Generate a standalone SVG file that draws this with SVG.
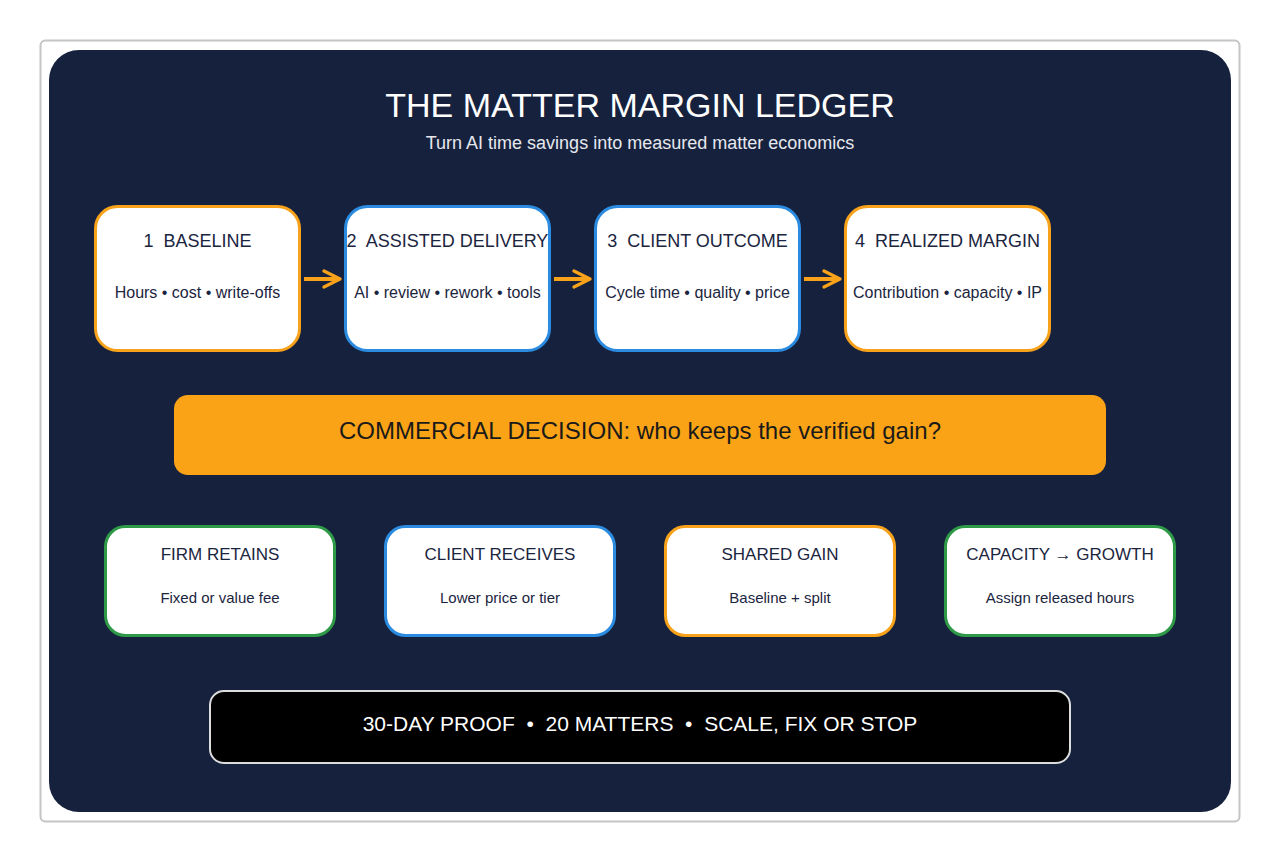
<svg xmlns="http://www.w3.org/2000/svg" width="1280" height="862" viewBox="0 0 1280 862">
<defs>
<style>
.t{font-family:"Liberation Sans",Arial,sans-serif;text-anchor:middle;white-space:pre}
.card{fill:#ffffff;stroke-width:3}
.o{stroke:#f8a21b}.b{stroke:#2b8be0}.g{stroke:#2e9a47}
.nt{font-size:18px;fill:#1b2540}
.ns{font-size:16px;fill:#1b2540}
.bt{font-size:17px;fill:#1b2540}
.bs{font-size:15px;fill:#1b2540}
.conn{stroke:#f8a21b;stroke-width:4;fill:none}
</style>
<marker id="ah" viewBox="0 0 10 10" refX="9" refY="5" markerWidth="5" markerHeight="5" orient="auto" markerUnits="strokeWidth">
<path d="M1,1 L9,5 L1,9" fill="none" stroke="#f8a21b" stroke-width="1.6" stroke-linecap="round" stroke-linejoin="round"/>
</marker>
</defs>
<rect x="0" y="0" width="1280" height="862" fill="#ffffff"/>
<rect x="40.5" y="40.5" width="1199" height="781" rx="5" fill="#ffffff" stroke="#c4c4c4" stroke-width="2"/>
<rect x="49" y="50" width="1182" height="762" rx="30" fill="#16223d"/>
<text class="t" x="640" y="117" font-size="34" fill="#ffffff">THE MATTER MARGIN LEDGER</text>
<text class="t" x="640" y="149" font-size="18" fill="#e6e8ee">Turn AI time savings into measured matter economics</text>

<g id="connectors">
<line class="conn" x1="304" y1="279" x2="340" y2="279" marker-end="url(#ah)"/>
<line class="conn" x1="554" y1="279" x2="590" y2="279" marker-end="url(#ah)"/>
<line class="conn" x1="804" y1="279" x2="840" y2="279" marker-end="url(#ah)"/>
</g>

<g id="n1"><rect class="card o" x="95.5" y="206.5" width="204" height="144" rx="22"/>
<text class="t nt" x="197.5" y="247" xml:space="preserve">1  BASELINE</text><text class="t ns" x="197.5" y="298">Hours • cost • write-offs</text></g>
<g id="n2"><rect class="card b" x="345.5" y="206.5" width="204" height="144" rx="22"/>
<text class="t nt" x="447.5" y="247" xml:space="preserve">2  ASSISTED DELIVERY</text><text class="t ns" x="447.5" y="298">AI • review • rework • tools</text></g>
<g id="n3"><rect class="card b" x="595.5" y="206.5" width="204" height="144" rx="22"/>
<text class="t nt" x="697.5" y="247" xml:space="preserve">3  CLIENT OUTCOME</text><text class="t ns" x="697.5" y="298">Cycle time • quality • price</text></g>
<g id="n4"><rect class="card o" x="845.5" y="206.5" width="204" height="144" rx="22"/>
<text class="t nt" x="947.5" y="247" xml:space="preserve">4  REALIZED MARGIN</text><text class="t ns" x="947.5" y="298">Contribution • capacity • IP</text></g>

<g id="decision"><rect x="174" y="395" width="932" height="80" rx="14" fill="#fba316"/>
<text class="t" x="640" y="439" font-size="24" fill="#1a1a1a">COMMERCIAL DECISION: who keeps the verified gain?</text></g>

<g id="b1"><rect class="card g" x="105.5" y="526.5" width="229" height="109" rx="20"/>
<text class="t bt" x="220" y="560">FIRM RETAINS</text><text class="t bs" x="220" y="603">Fixed or value fee</text></g>
<g id="b2"><rect class="card b" x="385.5" y="526.5" width="229" height="109" rx="20"/>
<text class="t bt" x="500" y="560">CLIENT RECEIVES</text><text class="t bs" x="500" y="603">Lower price or tier</text></g>
<g id="b3"><rect class="card o" x="665.5" y="526.5" width="229" height="109" rx="20"/>
<text class="t bt" x="780" y="560">SHARED GAIN</text><text class="t bs" x="780" y="603">Baseline + split</text></g>
<g id="b4"><rect class="card g" x="945.5" y="526.5" width="229" height="109" rx="20"/>
<text class="t bt" x="1060" y="560">CAPACITY → GROWTH</text><text class="t bs" x="1060" y="603">Assign released hours</text></g>

<g id="proof"><rect x="210" y="691" width="860" height="72" rx="14" fill="#000000" stroke="#dddddd" stroke-width="2"/>
<text class="t" x="640" y="731" font-size="21" fill="#ffffff" xml:space="preserve">30-DAY PROOF  •  20 MATTERS  •  SCALE, FIX OR STOP</text></g>
</svg>
